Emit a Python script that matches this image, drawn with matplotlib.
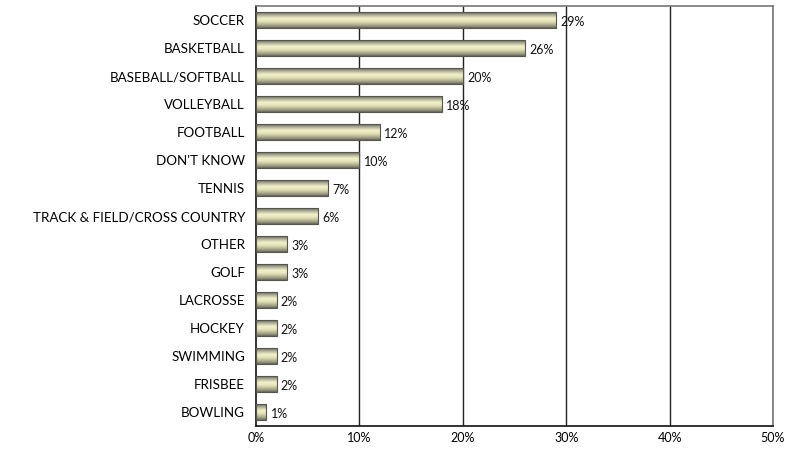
import numpy as np
import matplotlib.pyplot as plt
from matplotlib.colors import LinearSegmentedColormap

sports = ['SOCCER', 'BASKETBALL', 'BASEBALL/SOFTBALL', 'VOLLEYBALL', 'FOOTBALL',
          "DON'T KNOW", 'TENNIS', 'TRACK & FIELD/CROSS COUNTRY', 'OTHER', 'GOLF',
          'LACROSSE', 'HOCKEY', 'SWIMMING', 'FRISBEE', 'BOWLING']
pct = [29, 26, 20, 18, 12, 10, 7, 6, 3, 3, 2, 2, 2, 2, 1]
xticks = [0, 10, 20, 30, 40, 50]

plt.rcParams['font.family'] = ['Lato', 'DejaVu Sans']

fig = plt.figure(figsize=(7.95, 4.53), dpi=100)
ax = fig.add_axes([256 / 795, 1 - 426 / 453, 517 / 795, 420 / 453])

# metallic shading across the bar thickness (top -> bottom)
shade = LinearSegmentedColormap.from_list('metal', [
    (0.0, '#66665e'), (0.18, '#aeae98'), (0.4, '#f4f2cc'),
    (0.6, '#e2e0b6'), (0.85, '#a4a286'), (1.0, '#66665c')])
grad = np.linspace(0, 1, 64).reshape(-1, 1)

h = 0.57
y = np.arange(len(sports))
for yi, v in zip(y, pct):
    ax.imshow(grad, cmap=shade, aspect='auto', interpolation='bilinear',
              extent=[0, v, yi + h / 2, yi - h / 2], zorder=3)
    ax.barh(yi, v, height=h, facecolor='none', edgecolor='#55554d',
            linewidth=0.8, zorder=4)
    ax.text(v + 0.4, yi + 0.08, f'{v}%', va='center', ha='left',
            fontsize=9, color='#111111', zorder=5)

ax.set_xlim(0, 50)
ax.set_ylim(len(sports) - 0.5, -0.5)
ax.set_yticks(y)
ax.set_yticklabels(sports, fontsize=9.6)
ax.set_xticks(xticks)
ax.set_xticklabels([f'{t}%' for t in xticks], fontsize=9)
ax.tick_params(axis='y', length=0, pad=8)
ax.tick_params(axis='x', length=0, pad=4)

for t in xticks[1:]:
    ax.axvline(t, color='#222222', linewidth=1, zorder=1)

ax.spines['left'].set_color('#111111')
ax.spines['bottom'].set_color('#111111')
ax.spines['top'].set_color('#777777')
ax.spines['right'].set_color('#777777')
for s in ax.spines.values():
    s.set_linewidth(1.2)

fig.savefig('out.png', dpi=100)
